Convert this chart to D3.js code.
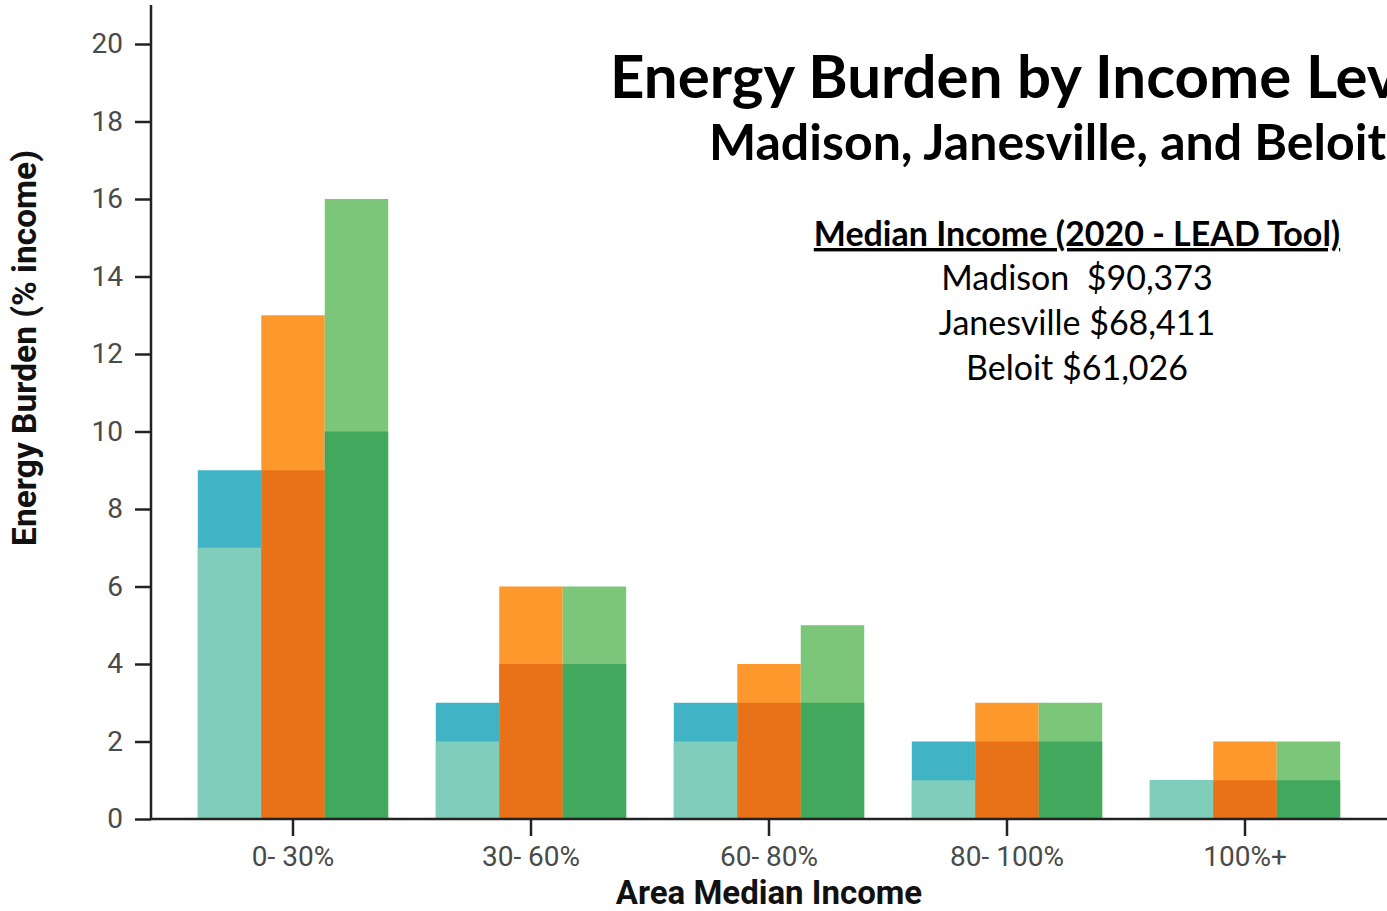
<!DOCTYPE html>
<html>
<head>
<meta charset="utf-8">
<script src="https://cdn.jsdelivr.net/npm/d3@7"></script>
<style>
  html, body { margin: 0; padding: 0; background: #fff; overflow: hidden; }
  .tick text { font-family: Roboto, sans-serif; fill: #4a4a4a; }
</style>
</head>
<body>
<div id="chart"></div>
<script>
// income bands
const bands = ['0- 30%', '30- 60%', '60- 80%', '80- 100%', '100%+'];
const cities = ['Madison', 'Janesville', 'Beloit'];

// lower (base) segment and total height, per city
const madisonLow = [7, 2, 2, 1, 1];
const madisonTop = [9, 3, 3, 2, 1];
const janesvilleLow = [9, 4, 3, 2, 1];
const janesvilleTop = [13, 6, 4, 3, 2];
const beloitLow = [10, 4, 3, 2, 1];
const beloitTop = [16, 6, 5, 3, 2];

const yTicks = [0, 2, 4, 6, 8, 10, 12, 14, 16, 18, 20];
const incomeLines = ['Madison  $90,373', 'Janesville $68,411', 'Beloit $61,026'];

const lowColor = { Madison: '#80cdbb', Janesville: '#e97118', Beloit: '#42a85d' };
const topColor = { Madison: '#40b4c5', Janesville: '#fd982d', Beloit: '#7bc679' };

const lows = { Madison: madisonLow, Janesville: janesvilleLow, Beloit: beloitLow };
const tops = { Madison: madisonTop, Janesville: janesvilleTop, Beloit: beloitTop };

const width = 1387;
const height = 911;

const svg = d3.select('#chart')
  .append('svg')
  .attr('width', width)
  .attr('height', height);

const x0 = d3.scaleBand()
  .domain(bands)
  .range([174, 1364])
  .padding(0);

const x1 = d3.scaleBand()
  .domain(cities)
  .range([x0.bandwidth() * 0.1, x0.bandwidth() * 0.9])
  .padding(0);

const y = d3.scaleLinear()
  .domain([0, 20])
  .range([819, 44]);

// bars
const rows = [];
bands.forEach((b, i) => {
  cities.forEach((c) => {
    rows.push({ band: b, city: c, low: lows[c][i], top: tops[c][i] });
  });
});

const g = svg.append('g');

g.selectAll('rect.top')
  .data(rows)
  .enter()
  .append('rect')
  .attr('class', 'top')
  .attr('x', (d) => x0(d.band) + x1(d.city))
  .attr('width', x1.bandwidth())
  .attr('y', (d) => y(d.top))
  .attr('height', (d) => y(0) - y(d.top))
  .attr('fill', (d) => topColor[d.city]);

g.selectAll('rect.low')
  .data(rows)
  .enter()
  .append('rect')
  .attr('class', 'low')
  .attr('x', (d) => x0(d.band) + x1(d.city))
  .attr('width', x1.bandwidth())
  .attr('y', (d) => y(d.low))
  .attr('height', (d) => y(0) - y(d.low))
  .attr('fill', (d) => lowColor[d.city]);

// y axis
const yAxis = svg.append('g')
  .attr('transform', 'translate(151,0)')
  .call(d3.axisLeft(y).tickValues(yTicks).tickSize(16).tickPadding(12));
yAxis.select('.domain').remove();
yAxis.selectAll('.tick line').attr('stroke', '#222').attr('stroke-width', 2.5);
yAxis.selectAll('.tick text').attr('font-size', 28);
svg.append('line')
  .attr('x1', 151).attr('x2', 151)
  .attr('y1', 5).attr('y2', y(0) + 1)
  .attr('stroke', '#222').attr('stroke-width', 2.5);

// x axis
const xAxis = svg.append('g')
  .attr('transform', `translate(0,${y(0)})`)
  .call(d3.axisBottom(x0).tickSize(17).tickPadding(10));
xAxis.select('.domain').remove();
xAxis.selectAll('.tick line').attr('stroke', '#222').attr('stroke-width', 2.5);
xAxis.selectAll('.tick text').attr('font-size', 28);
svg.append('line')
  .attr('x1', 150).attr('x2', width)
  .attr('y1', y(0)).attr('y2', y(0))
  .attr('stroke', '#222').attr('stroke-width', 2.5);

// axis titles
svg.append('text')
  .attr('x', 769)
  .attr('y', 904)
  .attr('text-anchor', 'middle')
  .attr('font-family', 'Roboto, sans-serif')
  .attr('font-weight', 700)
  .attr('font-size', 33)
  .attr('fill', '#111')
  .text('Area Median Income');

svg.append('text')
  .attr('transform', 'translate(36,348) rotate(-90)')
  .attr('text-anchor', 'middle')
  .attr('font-family', 'Roboto, sans-serif')
  .attr('font-weight', 700)
  .attr('font-size', 33.5)
  .attr('fill', '#111')
  .text('Energy Burden (% income)');

// title block (runs off the right edge, as in the original)
svg.append('text')
  .attr('x', 610)
  .attr('y', 98)
  .attr('font-family', 'Lato, sans-serif')
  .attr('font-weight', 700)
  .attr('font-size', 60)
  .attr('fill', '#000')
  .text('Energy Burden by Income Level');

svg.append('text')
  .attr('x', 1386)
  .attr('y', 160)
  .attr('text-anchor', 'end')
  .attr('font-family', 'Lato, sans-serif')
  .attr('font-weight', 700)
  .attr('font-size', 50)
  .attr('fill', '#000')
  .text('Madison, Janesville, and Beloit');

svg.append('text')
  .attr('x', 1077)
  .attr('y', 246)
  .attr('text-anchor', 'middle')
  .attr('font-family', 'Lato, sans-serif')
  .attr('font-weight', 700)
  .attr('font-size', 34)
  .attr('text-decoration', 'underline')
  .attr('fill', '#000')
  .text('Median Income (2020 - LEAD Tool)');

svg.selectAll('text.income')
  .data(incomeLines)
  .enter()
  .append('text')
  .attr('class', 'income')
  .attr('x', 1077)
  .attr('y', (d, i) => 290 + i * 45)
  .attr('text-anchor', 'middle')
  .attr('font-family', 'Lato, sans-serif')
  .attr('font-size', 34)
  .attr('fill', '#000')
  .style('white-space', 'pre')
  .text((d) => d);
</script>
</body>
</html>
